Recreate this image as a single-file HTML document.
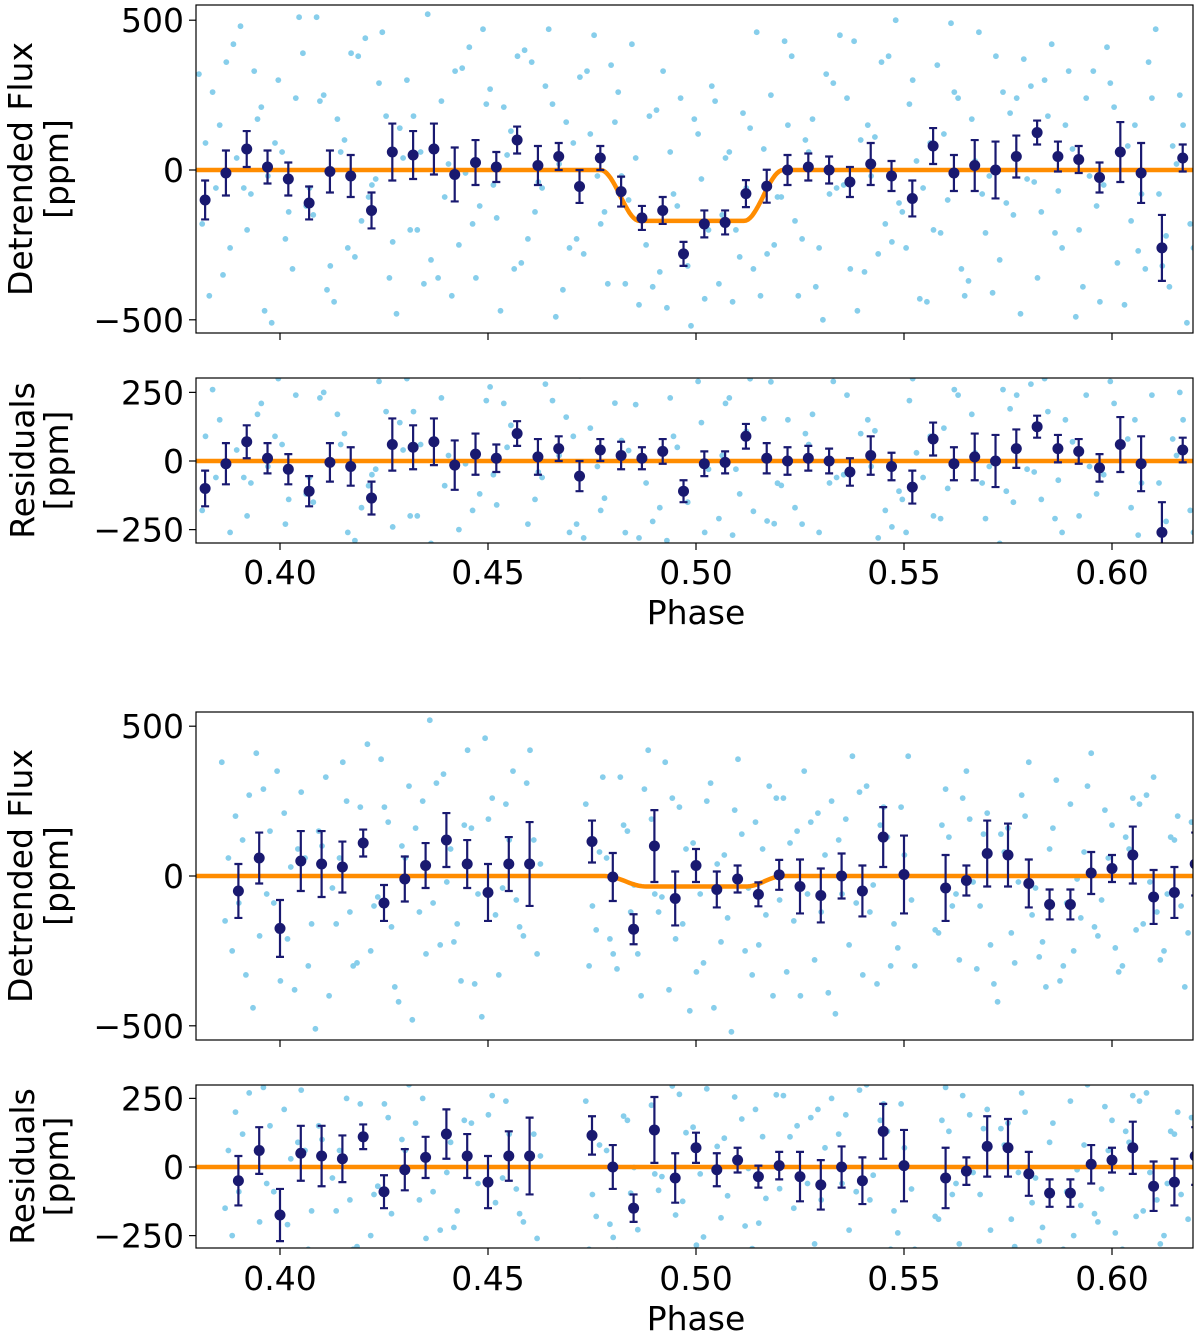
<!DOCTYPE html>
<html><head><meta charset="utf-8"><style>
html,body{margin:0;padding:0;background:#fff;}
svg{display:block;font-family:"DejaVu Sans","Liberation Sans",sans-serif;}
</style></head><body>
<svg id="fig" width="1200" height="1337" viewBox="0 0 1200 1337" xmlns="http://www.w3.org/2000/svg"></svg>
<script>
// ---------- data ----------
const binPhaseTop = [0.382,0.387,0.392,0.397,0.402,0.407,0.412,0.417,0.422,0.427,0.432,0.437,0.442,0.447,0.452,0.457,0.462,0.467,0.472,0.477,0.482,0.487,0.492,0.497,0.502,0.507,0.512,0.517,0.522,0.527,0.532,0.537,0.542,0.547,0.552,0.557,0.562,0.567,0.572,0.577,0.582,0.587,0.592,0.597,0.602,0.607,0.612,0.617];
const binResTop = [-100,-10,70,10,-30,-110,-5,-20,-135,60,50,70,-15,25,10,100,15,45,-55,40,20,10,35,-110,-10,-5,90,10,0,10,0,-40,20,-20,-95,80,-10,15,0,45,125,45,35,-25,60,-10,-260,40];
const binErrTop = [65,75,60,55,55,55,70,70,60,95,80,85,90,75,50,45,65,45,55,40,50,40,45,40,45,40,45,55,50,45,45,50,70,50,60,60,60,85,95,70,40,50,45,50,100,100,110,45];

const binPhaseBot = [0.39,0.395,0.40,0.405,0.41,0.415,0.42,0.425,0.43,0.435,0.44,0.445,0.45,0.455,0.46,0.475,0.48,0.485,0.49,0.495,0.50,0.505,0.51,0.515,0.52,0.525,0.53,0.535,0.54,0.545,0.55,0.56,0.565,0.57,0.575,0.58,0.585,0.59,0.595,0.60,0.605,0.61,0.615,0.62];
const binResBot = [-50,60,-175,50,40,30,110,-90,-10,35,120,40,-55,40,40,115,0,-150,135,-40,70,-10,25,-35,5,-35,-65,0,-50,130,5,-40,-15,75,70,-25,-95,-95,10,25,70,-70,-55,40];
const binErrBot = [90,85,95,100,110,85,45,60,75,75,90,80,95,90,140,70,80,50,120,90,55,60,45,40,50,90,90,75,85,100,130,110,50,110,105,80,50,50,70,45,95,90,85,105];

// transit model parameters [t1, t2, t3, t4, depth]
const modelTop = [0.477,0.4865,0.5115,0.521,170];
const modelBot = [0.478,0.488,0.512,0.521,35];

const rawPhaseTop = [0.3805,0.383,0.3855,0.388,0.3905,0.393,0.3955,0.398,0.4005,0.403,0.4055,0.408,0.4105,0.413,0.4155,0.418,0.4205,0.423,0.4255,0.428,0.4305,0.433,0.4355,0.438,0.4405,0.443,0.4455,0.448,0.4505,0.453,0.4555,0.458,0.4605,0.463,0.4655,0.468,0.4705,0.473,0.4755,0.478,0.4805,0.483,0.4855,0.488,0.4905,0.493,0.4955,0.498,0.5005,0.503,0.5055,0.508,0.5105,0.513,0.5155,0.518,0.5205,0.523,0.5255,0.528,0.5305,0.533,0.5355,0.538,0.5405,0.543,0.5455,0.548,0.5505,0.553,0.5555,0.558,0.5605,0.563,0.5655,0.568,0.5705,0.573,0.5755,0.578,0.5805,0.583,0.5855,0.588,0.5905,0.593,0.5955,0.598,0.6005,0.603,0.6055,0.608,0.6105,0.613,0.6155,0.618];
const rawFluxTop1 = [320,-420,150,-260,480,-80,210,-510,60,-330,390,-150,250,-440,100,-290,440,-30,180,-480,300,-200,520,-360,20,-250,410,-120,270,-470,130,-310,360,-60,220,-400,90,-280,450,-140,160,-380,40,-250,200,-460,-120,-320,120,-200,-380,60,-290,140,-420,250,-90,380,-230,170,-500,290,-50,430,-340,110,-180,500,-260,30,-440,350,-100,240,-370,460,-20,-300,190,-480,280,-140,420,-260,70,-390,330,-50,210,-450,150,-330,470,-220,20,-510];
const rawFluxTop2 = [-180,260,-350,420,-60,330,-470,90,-230,240,-120,510,-400,170,-260,380,-90,290,-360,140,-200,60,-300,230,-420,340,-180,470,-50,210,-330,400,-140,280,-490,160,-230,330,-20,-380,260,-100,-450,180,-340,60,240,-520,-30,280,-150,-440,190,-330,70,-250,430,-170,100,-390,320,-60,240,-470,150,-280,380,-110,220,-430,90,-210,490,-330,170,-80,-410,260,-150,370,-40,300,-210,150,-490,240,-120,410,-310,80,-270,360,-80,-390,250,-180,310];
const rawFluxTop3 = [90,-60,360,40,-200,170,-20,300,-140,510,-60,230,-320,60,390,-170,-50,460,-240,40,180,-380,80,-90,330,-10,-360,220,-160,50,380,-230,-40,470,20,-260,310,120,-180,350,-20,420,-160,-390,330,-80,-290,170,-430,230,40,-200,-60,460,-280,-90,150,-420,60,-260,-80,450,-330,100,-20,360,-240,-140,300,-60,-200,120,260,-420,30,-210,380,-110,240,-30,-360,180,-70,330,-200,-20,-440,290,60,-170,-80,240,-320,80,150,-260];

const rawPhaseBot = [0.386,0.3885,0.391,0.3935,0.396,0.3985,0.401,0.4035,0.406,0.4085,0.411,0.4135,0.416,0.4185,0.421,0.4235,0.426,0.4285,0.431,0.4335,0.436,0.4385,0.441,0.4435,0.446,0.4485,0.451,0.4535,0.456,0.4585,0.461,0.4735,0.476,0.4785,0.481,0.4835,0.486,0.4885,0.491,0.4935,0.496,0.4985,0.501,0.5035,0.506,0.5085,0.511,0.5135,0.516,0.5185,0.521,0.5235,0.526,0.5285,0.531,0.5335,0.536,0.5385,0.541,0.5435,0.546,0.5485,0.551,0.5575,0.56,0.5625,0.565,0.5675,0.57,0.5725,0.575,0.5775,0.58,0.5825,0.585,0.5875,0.59,0.5925,0.595,0.5975,0.60,0.6025,0.605,0.6075,0.61,0.6125,0.615,0.6175];
const rawFluxBot1 = [380,-250,120,-440,290,-90,210,-380,60,-510,330,-160,250,-290,440,-70,180,-420,300,-120,520,-230,90,-350,160,-470,260,-40,350,-200,120,240,-180,60,-310,150,-260,420,-120,-380,230,-450,-60,310,-220,-520,140,-330,90,-400,260,-150,350,-280,70,-460,190,-90,300,-360,130,-240,400,-180,290,-60,350,-310,210,-420,160,-20,380,-270,90,-350,240,-140,410,-80,170,-300,260,-160,330,-250,120,-370,200];
const rawFluxBot2 = [-150,200,-330,410,-60,350,-210,90,-300,150,-400,60,-120,230,-250,390,-170,100,-480,250,-90,340,-220,170,-360,460,-130,240,-80,310,-260,-300,80,-210,330,-120,-400,190,-70,260,-160,110,-290,-440,70,220,-250,180,-130,260,-320,150,-60,210,-390,120,-230,280,-120,170,-300,230,-80,-190,130,-280,190,-100,-230,140,-190,270,-130,-220,160,-300,-250,80,-170,220,-240,130,-180,270,-120,-60,200,-190,-30];
const rawFluxBot3 = [60,-90,270,-200,150,-350,30,280,-160,100,-40,380,-300,110,-100,230,-370,60,160,-260,310,-20,-160,420,-60,190,-330,120,-170,420,40,-100,330,-260,170,-30,290,-60,380,-210,90,-320,250,40,-140,390,-40,-230,300,-80,110,-400,180,-120,250,-60,400,-330,-30,230,-160,70,-300,170,-100,260,-20,140,-360,80,-290,200,-40,-370,320,-90,-10,300,-200,60,-320,90,240,-20,-280,130,-100,180,-220];

// ---------- geometry ----------
const L = 196, R = 1193;
const panels = [
  {name:'top-flux', top:5, bot:333, y0:170, k:0.2996, ticks:[500,0,-500], label:['Detrended Flux','[ppm]'], lx:[20,56], xlabels:false},
  {name:'top-residuals', top:378, bot:543, y0:461, k:0.2745, ticks:[250,0,-250], label:['Residuals','[ppm]'], lx:[22,56], xlabels:true, xlabY:572, phaseY:612},
  {name:'bottom-flux', top:712, bot:1040, y0:876, k:0.2996, ticks:[500,0,-500], label:['Detrended Flux','[ppm]'], lx:[20,56], xlabels:false},
  {name:'bottom-residuals', top:1085, bot:1248, y0:1167, k:0.2745, ticks:[250,0,-250], label:['Residuals','[ppm]'], lx:[22,56], xlabels:true, xlabY:1278, phaseY:1318}
];
const xTicks = [0.40,0.45,0.50,0.55,0.60];
const xTickLabels = ['0.40','0.45','0.50','0.55','0.60'];
const FS = 33;
const X = p => 696 + (p - 0.5) * 4160;
function model(p, m){
  const [t1,t2,t3,t4,d] = m;
  const sm = f => 0.5 - 0.5*Math.cos(Math.PI*f);
  if (p <= t1 || p >= t4) return 0;
  if (p < t2) return -d * sm((p-t1)/(t2-t1));
  if (p > t3) return -d * sm((t4-p)/(t4-t3));
  return -d;
}

const NS = 'http://www.w3.org/2000/svg';
const svg = document.getElementById('fig');
function mk(tag, attrs, parent){
  const e = document.createElementNS(NS, tag);
  for (const a in attrs) e.setAttribute(a, attrs[a]);
  (parent || svg).appendChild(e);
  return e;
}
const defs = mk('defs', {});

panels.forEach((P, pi) => {
  const g = mk('g', {});
  
  
  const Y = v => P.y0 - v * P.k;
  const cp = mk('clipPath', {id:'clip'+pi}, defs);
  mk('rect', {x:L, y:P.top, width:R-L, height:P.bot-P.top}, cp);
  const isTop = pi < 2;
  const m = isTop ? modelTop : modelBot;
  const isRes = (pi % 2) === 1;
  const rawP = isTop ? rawPhaseTop : rawPhaseBot;
  const rawSets = isTop ? [rawFluxTop1, rawFluxTop2, rawFluxTop3] : [rawFluxBot1, rawFluxBot2, rawFluxBot3];
  const plot = mk('g', {'clip-path':'url(#clip'+pi+')'}, g);
  // raw scatter
  const sg = mk('g', {}, plot);
  
  
  rawSets.forEach((set, si) => {
    set.forEach((f, i) => {
      const p = rawP[i] + si*0.0008;
      const v = isRes ? f - model(p, m) : f;
      const c = mk('circle', {cx:X(p).toFixed(1), cy:Y(v).toFixed(1), r:2.9, fill:'#87ceeb'}, sg);
      
      
    });
  });
  // model line
  let d = '';
  for (let p = 0.378; p <= 0.6225; p += 0.0005) {
    const v = isRes ? 0 : model(p, m);
    d += (d ? 'L' : 'M') + X(p).toFixed(1) + ',' + Y(v).toFixed(1);
  }
  const ml = mk('path', {d:d, fill:'none', stroke:'#ff8c00', 'stroke-width':4.5}, plot);
  
  
  // binned points
  const bp = isTop ? binPhaseTop : binPhaseBot;
  const br = isTop ? binResTop : binResBot;
  const be = isTop ? binErrTop : binErrBot;
  const bg = mk('g', {}, plot);
  
  
  bp.forEach((p, i) => {
    const v = isRes ? br[i] : br[i] + model(p, m);
    const cx = X(p), cy = Y(v), e1 = Y(v + be[i]), e2 = Y(v - be[i]);
    const eb = mk('path', {d:`M${cx},${e1}L${cx},${e2}M${cx-4},${e1}L${cx+4},${e1}M${cx-4},${e2}L${cx+4},${e2}`, stroke:'#191970', 'stroke-width':2.2, fill:'none'}, bg);
    
    
    const c = mk('circle', {cx:cx, cy:cy, r:5.5, fill:'#191970'}, bg);
    
    
  });
  // frame
  const fr = mk('rect', {x:L, y:P.top, width:R-L, height:P.bot-P.top, fill:'none', stroke:'#000', 'stroke-width':1.2}, g);
  
  
  // y ticks
  P.ticks.forEach(t => {
    const y = Y(t);
    mk('line', {x1:L-7, x2:L, y1:y, y2:y, stroke:'#000', 'stroke-width':1.2}, g);
    const tx = mk('text', {x:L-12, y:y+12, 'text-anchor':'end', 'font-size':FS}, g);
    tx.textContent = t < 0 ? '\u2212' + Math.abs(t) : String(t);
    
    
  });
  // x ticks
  xTicks.forEach((t, i) => {
    const x = X(t);
    mk('line', {x1:x, x2:x, y1:P.bot, y2:P.bot+7, stroke:'#000', 'stroke-width':1.2}, g);
    if (P.xlabels) {
      const tx = mk('text', {x:x, y:P.xlabY+12, 'text-anchor':'middle', 'font-size':FS}, g);
      tx.textContent = xTickLabels[i];
      
      
    }
  });
  if (P.xlabels) {
    const xt = mk('text', {x:696, y:P.phaseY+12, 'text-anchor':'middle', 'font-size':FS}, g);
    xt.textContent = 'Phase';
    
    
  }
  // y label
  const yc = (P.top + P.bot) / 2;
  P.label.forEach((s, li) => {
    const t = mk('text', {x:P.lx[li], y:yc, 'text-anchor':'middle', 'font-size':FS, transform:`rotate(-90 ${P.lx[li]} ${yc})`, dy:12}, g);
    t.textContent = s;
    
    
  });
});
</script>
</body></html>
